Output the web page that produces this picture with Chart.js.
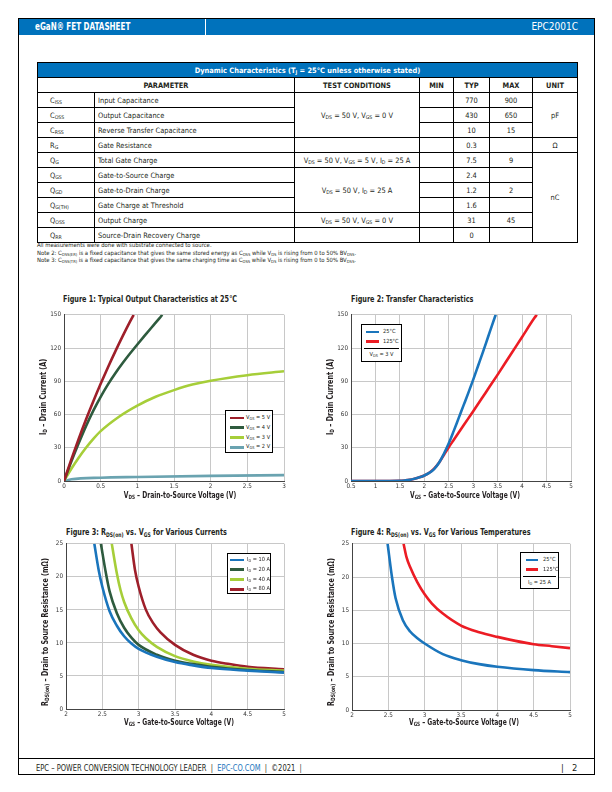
<!DOCTYPE html>
<html>
<head>
<meta charset="utf-8">
<script src="https://cdn.jsdelivr.net/npm/chart.js@4.4.1/dist/chart.umd.min.js"></script>
<style>
  body { margin: 0; width: 612px; height: 792px; position: relative; overflow: hidden; background: #fff;
         font-family: "Liberation Sans Narrow", "DejaVu Sans Condensed", "Roboto", sans-serif; color: #231f20; }
  .abs { position: absolute; }
  sub { font-size: 0.7em; vertical-align: -0.25em; line-height: 0; }
  .sx { transform-origin: 0 50%; transform: scaleX(0.8); white-space: nowrap; }
  #page { left: 18px; top: 18px; width: 575px; height: 755px; border: 1.3px solid #000; }
  #hdr { left: 19px; top: 19px; width: 575px; height: 16px; background: #0072bc; color: #fff; }
  #hdr .l { position: absolute; left: 16px; top: 2px; font-weight: bold; font-size: 10px; }
  #hdr .r { position: absolute; right: 16px; top: 2px; font-size: 10px; }
  #hdr .div { position: absolute; left: 186px; top: 0; width: 1px; height: 16px; background: #fff; }
  table { border-collapse: collapse; table-layout: fixed; font-size: 7.4px; }
  td, th { border: 1px solid #000; height: 14px; padding: 0; text-align: center; vertical-align: middle; white-space: nowrap; }
  th { font-weight: bold; }
  td.sym { text-align: left; padding-left: 12px; }
  td.par { text-align: left; padding-left: 3px; }
  tr.ttl td { background: #0072bc; color: #fff; font-weight: bold; }
  .notes { left: 37px; top: 242px; font-size: 5.9px; line-height: 7.6px; }
  .ftitle { font-weight: bold; font-size: 9px; }
  .xt { font-weight: bold; font-size: 8.4px; text-align: center; white-space: nowrap; transform: scaleX(0.8); }
  .yt { font-weight: bold; font-size: 8.4px; white-space: nowrap; transform: translate(-50%, -50%) rotate(-90deg) scaleX(0.85); }
  .leg { background: #fff; border: 1px solid #000; font-size: 5.6px; box-sizing: border-box; }
  .leg .row { position: relative; height: 9.8px; }
  .leg .sw { position: absolute; top: 3.6px; height: 2.6px; }
  .leg .tx { position: absolute; top: 0; line-height: 9.8px; white-space: nowrap; }
  .leg .note { border-top: 1px solid #000; margin: 1px 2px 0 2px; text-align: center; line-height: 10px; }
  #foot { left: 19px; top: 758px; width: 575px; height: 16px; border-top: 1.3px solid #000; font-size: 9.4px; }
  #foot span { position: absolute; top: 3px; white-space: nowrap; }
</style>
</head>
<body>
<div id="page" class="abs"></div>
<div id="hdr" class="abs">
  <span class="l sx">eGaN® FET DATASHEET</span>
  <span class="div"></span>
  <span class="r">EPC2001C</span>
</div>

<table class="abs" style="left:37px; top:62px; width:540px;">
  <colgroup>
    <col style="width:57px"><col style="width:200px"><col style="width:125px"><col style="width:34px">
    <col style="width:36px"><col style="width:43px"><col style="width:45px">
  </colgroup>
  <tr class="ttl"><td colspan="7">Dynamic Characteristics (T<sub>J</sub> = 25°C unless otherwise stated)</td></tr>
  <tr><th colspan="2">PARAMETER</th><th>TEST CONDITIONS</th><th>MIN</th><th>TYP</th><th>MAX</th><th>UNIT</th></tr>
  <tr><td class="sym">C<sub>ISS</sub></td><td class="par">Input Capacitance</td>
      <td rowspan="3">V<sub>DS</sub> = 50 V, V<sub>GS</sub> = 0 V</td><td></td><td>770</td><td>900</td><td rowspan="3">pF</td></tr>
  <tr><td class="sym">C<sub>OSS</sub></td><td class="par">Output Capacitance</td><td></td><td>430</td><td>650</td></tr>
  <tr><td class="sym">C<sub>RSS</sub></td><td class="par">Reverse Transfer Capacitance</td><td></td><td>10</td><td>15</td></tr>
  <tr><td class="sym">R<sub>G</sub></td><td class="par">Gate Resistance</td><td></td><td></td><td>0.3</td><td></td><td>Ω</td></tr>
  <tr><td class="sym">Q<sub>G</sub></td><td class="par">Total Gate Charge</td>
      <td>V<sub>DS</sub> = 50 V, V<sub>GS</sub> = 5 V, I<sub>D</sub> = 25 A</td><td></td><td>7.5</td><td>9</td><td rowspan="6">nC</td></tr>
  <tr><td class="sym">Q<sub>GS</sub></td><td class="par">Gate-to-Source Charge</td>
      <td rowspan="3">V<sub>DS</sub> = 50 V, I<sub>D</sub> = 25 A</td><td></td><td>2.4</td><td></td></tr>
  <tr><td class="sym">Q<sub>GD</sub></td><td class="par">Gate-to-Drain Charge</td><td></td><td>1.2</td><td>2</td></tr>
  <tr><td class="sym">Q<sub>G(TH)</sub></td><td class="par">Gate Charge at Threshold</td><td></td><td>1.6</td><td></td></tr>
  <tr><td class="sym">Q<sub>OSS</sub></td><td class="par">Output Charge</td>
      <td>V<sub>DS</sub> = 50 V, V<sub>GS</sub> = 0 V</td><td></td><td>31</td><td>45</td></tr>
  <tr><td class="sym">Q<sub>RR</sub></td><td class="par">Source-Drain Recovery Charge</td><td></td><td></td><td>0</td><td></td></tr>
</table>

<div class="abs notes">
  All measurements were done with substrate connected to source.<br>
  Note 2: C<sub>OSS(ER)</sub> is a fixed capacitance that gives the same stored energy as C<sub>OSS</sub> while V<sub>DS</sub> is rising from 0 to 50% BV<sub>DSS</sub>.<br>
  Note 3: C<sub>OSS(TR)</sub> is a fixed capacitance that gives the same charging time as C<sub>OSS</sub> while V<sub>DS</sub> is rising from 0 to 50% BV<sub>DSS</sub>.
</div>

<!-- figure titles -->
<div class="abs ftitle sx" style="left:63px; top:294px;">Figure 1: Typical Output Characteristics at 25°C</div>
<div class="abs ftitle sx" style="left:351px; top:294px;">Figure 2: Transfer Characteristics</div>
<div class="abs ftitle sx" style="left:66px; top:527px;">Figure 3: R<sub>DS(on)</sub> vs. V<sub>GS</sub> for Various Currents</div>
<div class="abs ftitle sx" style="left:351px; top:527px;">Figure 4: R<sub>DS(on)</sub> vs. V<sub>GS</sub> for Various Temperatures</div>

<canvas id="fig1" class="abs"></canvas>
<canvas id="fig2" class="abs"></canvas>
<canvas id="fig3" class="abs"></canvas>
<canvas id="fig4" class="abs"></canvas>

<!-- axis titles -->
<div class="abs xt" style="left:70px; width:220px; top:490px;">V<sub>DS</sub> – Drain-to-Source Voltage (V)</div>
<div class="abs yt" style="left:43px; top:397px;">I<sub>D</sub> – Drain Current (A)</div>
<div class="abs xt" style="left:355px; width:220px; top:490px;">V<sub>GS</sub> – Gate-to-Source Voltage (V)</div>
<div class="abs yt" style="left:330px; top:397px;">I<sub>D</sub> – Drain Current (A)</div>
<div class="abs xt" style="left:70px; width:218px; top:717px;">V<sub>GS</sub> – Gate-to-Source Voltage (V)</div>
<div class="abs yt" style="left:45px; top:632px;">R<sub>DS(on)</sub> – Drain to Source Resistance (mΩ)</div>
<div class="abs xt" style="left:355px; width:218px; top:717px;">V<sub>GS</sub> – Gate-to-Source Voltage (V)</div>
<div class="abs yt" style="left:331px; top:632px;">R<sub>DS(on)</sub> – Drain to Source Resistance (mΩ)</div>

<div id="leg1" class="abs leg" style="left:225px; top:410px; width:48px; height:43px; padding-top:2px;"></div>
<div id="leg2" class="abs leg" style="left:361px; top:324px; width:41px; height:38px; padding-top:2px;"></div>
<div id="leg3" class="abs leg" style="left:227px; top:553px; width:44px; height:41px; padding-top:1px;"></div>
<div id="leg4" class="abs leg" style="left:520px; top:552px; width:39px; height:37px; padding-top:2px;"></div>

<div id="foot" class="abs">
  <span class="sx" style="left:17px;">EPC – POWER CONVERSION TECHNOLOGY LEADER &nbsp;|&nbsp; <span style="position:static;color:#1a75bc">EPC-CO.COM</span> &nbsp;|&nbsp; ©2021 &nbsp;|</span>
  <span style="left:542px;">|&nbsp;&nbsp; 2</span>
</div>

<script>
// Figure 1: output characteristics, [VDS (V), ID (A)]
const fig1Vgs5 = [[0,0],[0.1,19.5],[0.2,38],[0.3,55.5],[0.4,72],[0.5,87.7],[0.6,102.7],[0.7,117],[0.8,130.7],[0.9,143.8],[0.95,150]];
const fig1Vgs4 = [[0,0],[0.1,17.5],[0.2,34],[0.3,49.5],[0.4,63.5],[0.5,76],[0.6,87.2],[0.7,97.2],[0.8,106.4],[0.9,115],[1,123.2],[1.1,131.2],[1.2,139],[1.3,146.7],[1.34,150]];
const fig1Vgs3 = [[0,0],[0.1,11],[0.2,21],[0.3,30],[0.4,38],[0.5,45],[0.75,58],[1,68],[1.25,76],[1.5,82],[1.75,87],[2,90.5],[2.5,95.5],[3,99]];
const fig1Vgs2 = [[0,0],[0.1,1.5],[0.5,3],[1,3.6],[2,4.6],[3,5.3]];
const fig1Labels = ["V<sub>GS</sub> = 5 V", "V<sub>GS</sub> = 4 V", "V<sub>GS</sub> = 3 V", "V<sub>GS</sub> = 2 V"];

// Figure 2: transfer characteristics, [VGS (V), ID (A)]
const fig2T25 = [[0.5,0],[1,0],[1.5,0.2],[1.6,0.5],[1.7,1],[1.8,2],[1.9,3.3],[2,5],[2.1,7.3],[2.2,10.8],[2.3,16.5],[2.4,24.5],[2.5,34],[2.6,45],[2.7,56.5],[2.8,68],[2.9,79.5],[3,91.5],[3.1,104],[3.2,116.5],[3.3,129.5],[3.4,142.5],[3.46,150]];
const fig2T125 = [[0.5,0],[1,0],[1.5,0.2],[1.6,0.5],[1.7,1],[1.8,2],[1.9,3.3],[2,5],[2.1,7.5],[2.2,11.2],[2.3,16.5],[2.4,23.5],[2.5,30.5],[2.6,37],[2.7,43.5],[2.8,50],[2.9,56.5],[3,63],[3.25,79.5],[3.5,96],[3.75,113],[4,130],[4.25,147],[4.3,150]];
const fig2Labels = ["25°C", "125°C"];

// Figure 3: RDS(on) vs VGS for various currents, [VGS (V), mOhm]
const fig3Id10 = [[2.39,25],[2.45,21],[2.5,18.5],[2.6,14.8],[2.7,12.6],[2.8,11],[2.9,9.9],[3,9.1],[3.25,7.9],[3.5,7.1],[3.75,6.6],[4,6.2],[4.5,5.8],[5,5.5]];
const fig3Id20 = [[2.48,25],[2.55,20.5],[2.6,17.8],[2.7,14.5],[2.8,12.3],[2.9,10.8],[3,9.7],[3.25,8.2],[3.5,7.3],[3.75,6.8],[4,6.4],[4.5,5.9],[5,5.6]];
const fig3Id40 = [[2.63,25],[2.7,20.5],[2.75,18],[2.8,16.2],[2.9,13.7],[3,11.9],[3.1,10.7],[3.25,9.4],[3.5,8],[3.75,7.2],[4,6.7],[4.5,6.1],[5,5.8]];
const fig3Id80 = [[2.9,25],[2.95,21],[3,18.5],[3.1,15],[3.2,13],[3.3,11.6],[3.5,9.7],[3.75,8.2],[4,7.3],[4.25,6.8],[4.5,6.4],[5,6]];
const fig3Labels = ["I<sub>D</sub> = 10 A", "I<sub>D</sub> = 20 A", "I<sub>D</sub> = 40 A", "I<sub>D</sub> = 80 A"];

// Figure 4: RDS(on) vs VGS for various temperatures, [VGS (V), mOhm]
const fig4T25 = [[2.49,25],[2.55,20],[2.6,16.8],[2.7,13.5],[2.8,11.8],[2.9,10.8],[3,10],[3.25,8.4],[3.5,7.5],[3.75,6.9],[4,6.5],[4.5,6],[5,5.7]];
const fig4T125 = [[2.71,25],[2.75,23],[2.8,21.5],[2.9,19.2],[3,17.4],[3.1,16],[3.25,14.5],[3.5,12.7],[3.75,11.7],[4,11],[4.25,10.4],[4.5,9.9],[4.75,9.6],[5,9.3]];
const fig4Labels = ["25°C", "125°C"];

const darkRed = "#9e1f2a", darkGreen = "#2e5b3e", lightGreen = "#a6ce39", teal = "#6aa3b0";
const blue = "#1a75bc", red = "#ec1c24";

const toXY = (arr) => arr.map(p => ({ x: p[0], y: p[1] }));

function makeChart(id, box, series, colors, xr, yr) {
  const padL = 22, padT = 6, padR = 8, padB = 12;
  const cv = document.getElementById(id);
  cv.width = box.w + padL + padR;
  cv.height = box.h + padT + padB;
  cv.style.left = (box.x - padL) + "px";
  cv.style.top = (box.y - padT) + "px";
  const tickFont = { family: "'Liberation Sans Narrow', 'DejaVu Sans Condensed', sans-serif", size: 6.3 };
  return new Chart(cv, {
    type: "line",
    data: {
      datasets: series.map((s, i) => ({
        data: toXY(s),
        borderColor: colors[i],
        borderWidth: 2.6,
        pointRadius: 0,
        fill: false,
        cubicInterpolationMode: "monotone"
      }))
    },
    options: {
      responsive: false,
      animation: false,
      devicePixelRatio: 1,
      layout: { padding: { left: 0, top: padT, right: padR, bottom: 0 } },
      plugins: { legend: { display: false }, tooltip: { enabled: false } },
      scales: {
        x: {
          type: "linear", min: xr[0], max: xr[1],
          afterFit: (s) => { s.height = padB; },
          grid: { color: "#c8c8c8", lineWidth: 1, drawTicks: false },
          border: { color: "#444", width: 1 },
          ticks: { stepSize: xr[2], padding: 2, color: "#333", font: tickFont, maxRotation: 0, callback: (v) => String(v) }
        },
        y: {
          min: yr[0], max: yr[1],
          afterFit: (s) => { s.width = padL; },
          grid: { color: "#c8c8c8", lineWidth: 1, drawTicks: false },
          border: { color: "#444", width: 1 },
          ticks: { stepSize: yr[2], padding: 3, color: "#333", font: tickFont, callback: (v) => String(v) }
        }
      }
    }
  });
}

function makeLegend(id, labels, colors, note, sw, tx) {
  const el = document.getElementById(id);
  let html = "";
  labels.forEach((lab, i) => {
    html += '<div class="row"><span class="sw" style="left:' + sw[0] + 'px;width:' + sw[1] + 'px;background:' + colors[i] + '"></span>' +
            '<span class="tx" style="left:' + tx + 'px">' + lab + '</span></div>';
  });
  if (note) html += '<div class="note">' + note + '</div>';
  el.innerHTML = html;
}

const c1 = [darkRed, darkGreen, lightGreen, teal];
makeChart("fig1", { x: 64, y: 314, w: 220, h: 167 }, [fig1Vgs5, fig1Vgs4, fig1Vgs3, fig1Vgs2], c1, [0, 3, 0.5], [0, 150, 30]);
makeLegend("leg1", fig1Labels, c1, null, [4, 14], 20);

const c2 = [blue, red];
makeChart("fig2", { x: 351, y: 314, w: 220, h: 167 }, [fig2T25, fig2T125], c2, [0.5, 5, 0.5], [0, 150, 30]);
makeLegend("leg2", fig2Labels, c2, "V<sub>DS</sub> = 3 V", [4, 13], 21);

const c3 = [blue, darkGreen, lightGreen, darkRed];
makeChart("fig3", { x: 66, y: 543, w: 218, h: 166 }, [fig3Id10, fig3Id20, fig3Id40, fig3Id80], c3, [2, 5, 0.5], [0, 25, 5]);
makeLegend("leg3", fig3Labels, c3, null, [2, 14], 19);

const c4 = [blue, red];
makeChart("fig4", { x: 352, y: 543, w: 218, h: 167 }, [fig4T25, fig4T125], c4, [2, 5, 0.5], [0, 25, 5]);
makeLegend("leg4", fig4Labels, c4, "I<sub>D</sub> = 25 A", [5, 12], 22);
</script>
</body>
</html>
